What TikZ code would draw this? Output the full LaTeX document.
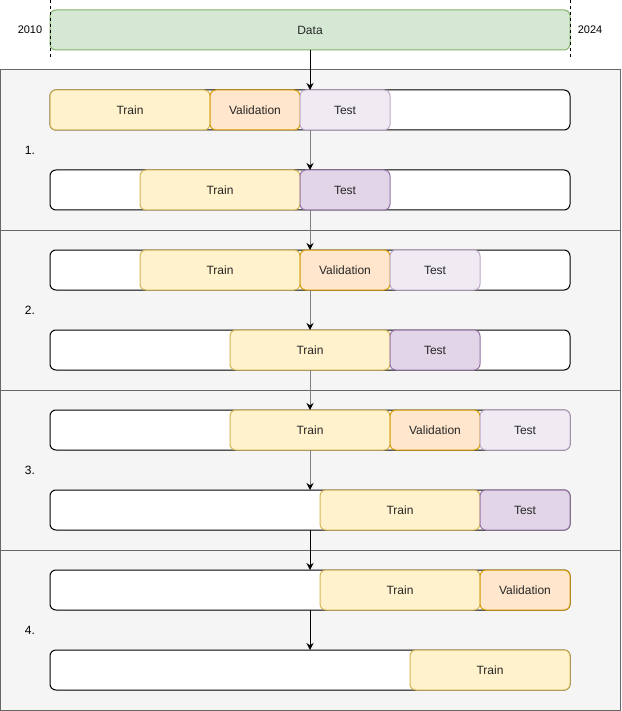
\documentclass[tikz,border=0pt]{standalone}
\usepackage{fontspec}
\setmainfont{Liberation Sans}
\usetikzlibrary{positioning,arrows.meta}
\definecolor{datafill}{HTML}{D5E8D4}
\definecolor{dataline}{HTML}{82B366}
\definecolor{trainfill}{HTML}{FFF2CC}
\definecolor{trainline}{HTML}{D6B656}
\definecolor{valfill}{HTML}{FFE6CC}
\definecolor{valline}{HTML}{D79B00}
\definecolor{testfill}{HTML}{E1D5E7}
\definecolor{testline}{HTML}{9673A6}

\begin{document}
\begin{tikzpicture}[
  x=1pt,y=-1pt,
  font=\fontsize{12}{14}\selectfont,
  bar/.style={rounded corners=6pt,minimum height=40pt,inner sep=0pt,outer sep=0pt,line width=1pt,text=black!85},
  row/.style={bar,draw=black,fill=white,minimum width=520pt},
  tr/.style={bar,draw=trainline,fill=trainfill,minimum width=160pt},
  va/.style={bar,draw=valline,fill=valfill,minimum width=90pt},
  te/.style={bar,draw=testline,fill=testfill,minimum width=90pt},
  tl/.style={bar,draw=testline!60,fill=testfill!50,minimum width=90pt},
  panel/.style={draw=black!60,fill=black!4,line width=1pt,minimum width=620pt,minimum height=160pt,inner sep=0pt,outer sep=0pt},
  gr/.style={draw=black!50,line width=1pt,-{Stealth[length=7pt,width=7pt,color=black]}},
  >={Stealth[length=7pt,width=7pt]},
  node distance=0pt
]
\useasboundingbox (0,0) rectangle (621,711);
% panels
\node[panel,anchor=north west] (p1) at (0.5,70) {};
\node[panel,below=of p1] (p2) {};
\node[panel,below=of p2] (p3) {};
\node[panel,below=of p3] (p4) {};
\node (n1) at (30,150) {1.};
\node (n2) at (30,310) {2.};
\node (n3) at (30,470) {3.};
\node (n4) at (30,630) {4.};
% data
\node[bar,draw=dataline,fill=datafill,minimum width=520pt] (d) at (310,30) {Data};
\node[font=\fontsize{11}{13}\selectfont] (y0) at (30,30) {2010};
\node[font=\fontsize{11}{13}\selectfont] (y1) at (590,30) {2024};
\draw[dashed] (50,0) -- (50,57);
\draw[dashed] (570,0) -- (570,57);
% rows
\node[row] (r1) at (310,110) {};
\node[row] (r2) at (310,190) {};
\node[row] (r3) at (310,270) {};
\node[row] (r4) at (310,350) {};
\node[row] (r5) at (310,430) {};
\node[row] (r6) at (310,510) {};
\node[row] (r7) at (310,590) {};
\node[row] (r8) at (310,670) {};
% 1.
\node[tr,anchor=west] (t1) at (50,110) {Train};
\node[va,right=of t1] (v1) {Validation};
\node[tl,right=of v1] (s1) {Test};
\node[tr,anchor=west] (t2) at (140,190) {Train};
\node[te,right=of t2] (s2) {Test};
% 2.
\node[tr,anchor=west] (t3) at (140,270) {Train};
\node[va,right=of t3] (v3) {Validation};
\node[tl,right=of v3] (s3) {Test};
\node[tr,anchor=west] (t4) at (230,350) {Train};
\node[te,right=of t4] (s4) {Test};
% 3.
\node[tr,anchor=west] (t5) at (230,430) {Train};
\node[va,right=of t5] (v5) {Validation};
\node[tl,right=of v5] (s5) {Test};
\node[tr,anchor=west] (t6) at (320,510) {Train};
\node[te,right=of t6] (s6) {Test};
% 4.
\node[tr,anchor=west] (t7) at (320,590) {Train};
\node[va,right=of t7] (v7) {Validation};
\node[tr,anchor=west] (t8) at (410,670) {Train};
% arrows
\draw[->,line width=1pt] (d.south) -- (d.south |- r1.north);
\foreach \a/\b in {1/2,2/3,3/4,4/5,5/6}
  \draw[gr] (d |- r\a.south) -- (d |- r\b.north);
\draw[->,line width=1pt] (d |- r6.south) -- (d |- r7.north);
\draw[->,line width=1pt] (d |- r7.south) -- (d |- r8.north);
\end{tikzpicture}
\end{document}
